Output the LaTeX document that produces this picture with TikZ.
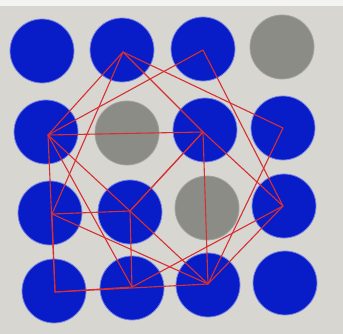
\documentclass[tikz,border=0pt]{standalone}
\definecolor{bg}{RGB}{216,214,208}
\definecolor{dotblue}{RGB}{8,28,200}
\definecolor{dotgray}{RGB}{140,140,134}
\definecolor{linered}{RGB}{214,48,52}
\begin{document}
\begin{tikzpicture}[x=1pt,y=-1pt,
  dot/.style={circle,fill=dotblue,draw=dotblue!55!white,line width=0.8pt,minimum size=64pt,inner sep=0pt},
  greydot/.style={dot,fill=dotgray,draw=dotgray!80!white},
  edge/.style={draw=linered,line width=1.1pt,line join=round}]
\fill[bg] (0,0) rectangle (343,334);
\fill[white!70!bg] (0,0) rectangle (343,6);
\useasboundingbox (0,0) rectangle (343,334);
% circles
\node[dot] (c11) at (42,51) {};
\node[dot] (c12) at (122,50) {};
\node[dot] (c13) at (203,49) {};
\node[greydot] (c14) at (282,47) {};
\node[dot] (c21) at (46,132) {};
\node[greydot] (c22) at (127,133) {};
\node[dot] (c23) at (205,130) {};
\node[dot] (c24) at (283,128) {};
\node[dot] (c31) at (50,213) {};
\node[dot] (c32) at (130,212) {};
\node[greydot] (c33) at (207,208) {};
\node[dot] (c34) at (284,206) {};
\node[dot] (c41) at (54,291) {};
\node[dot] (c42) at (132,288) {};
\node[dot] (c43) at (208,285) {};
\node[dot] (c44) at (285,283) {};
% vertices
\coordinate (v12) at (123,52);
\coordinate (v13) at (203,50);
\coordinate (v21) at (48,135);
\coordinate (v23) at (203,132);
\coordinate (v24) at (283,128);
\coordinate (v31) at (52,214);
\coordinate (v32) at (130,211);
\coordinate (v34) at (283,206);
\coordinate (v41) at (55,292);
\coordinate (v42) at (132,287);
\coordinate (v43) at (208,284);
% squares
\draw[edge] (v31) -- (v32) -- (v42) -- (v41) -- cycle;
\draw[edge] (v21) -- (v23) -- (v43) -- (v41) -- cycle;
\draw[edge] (v12) -- (v23) -- (v32) -- (v21) -- cycle;
\draw[edge] (v23) -- (v34) -- (v43) -- (v32) -- cycle;
\draw[edge] (v12) -- (v24) -- (v43) -- (v31) -- cycle;
\draw[edge] (v13) -- (v34) -- (v42) -- (v21) -- cycle;
\end{tikzpicture}
\end{document}
